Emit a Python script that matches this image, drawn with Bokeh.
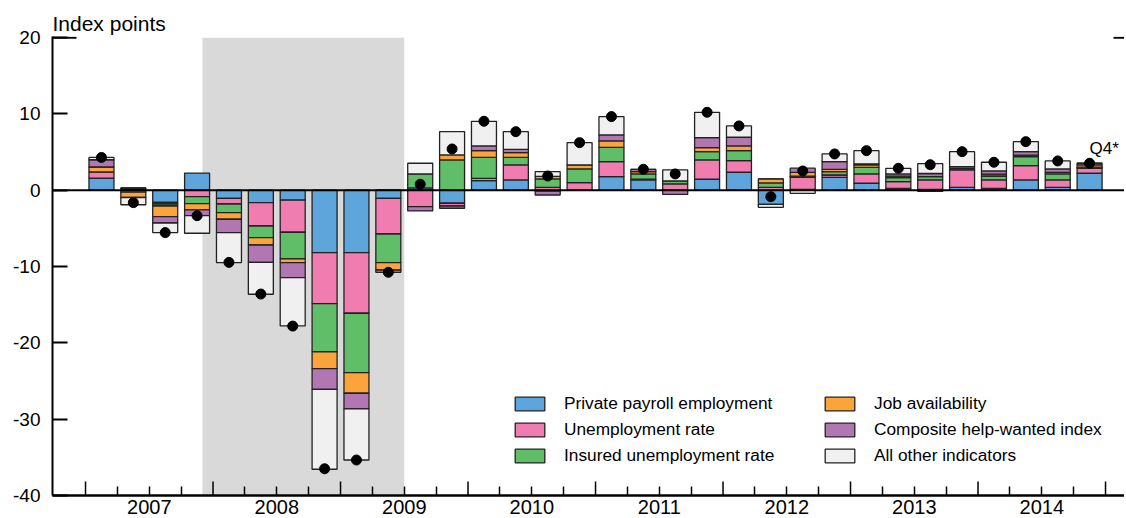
import math
from bokeh.plotting import figure
from bokeh.models import (Range1d, LinearAxis, FixedTicker, BoxAnnotation, Span,
                          Legend, LegendItem, Label)
from bokeh.embed import file_html
from bokeh.resources import INLINE

# ---------------- data ----------------
quarters = [f"{yr}Q{q}" for yr in range(2007, 2015) for q in range(1, 5)]

payroll = [1.6, 0.2, -1.58, 2.25, -1.05, -1.62, -1.3, -8.17,
           -8.17, -1.05, 0.3, -1.7, 1.26, 1.35, -0.1, 0.0,
           1.79, 1.35, 0.0, 1.44, 2.36, -1.84, 0.1, 1.7,
           0.92, 0.25, 0.1, 0.39, 0.25, 1.35, 0.39, 2.23]
unemp = [0.8, -0.25, -0.22, -0.84, -0.75, -3.06, -4.2, -6.69,
         -7.95, -4.68, -2.15, -0.36, 0.31, 1.97, 0.39, 1.0,
         1.96, 0.1, 0.83, 2.53, 1.52, 0.39, 1.6, 0.3,
         1.22, 0.88, 1.25, 2.27, 1.1, 1.88, 0.96, 0.65]
insured = [0.0, 0.1, -0.26, -0.92, -1.13, -1.53, -3.5, -6.33,
           -7.78, -3.75, 1.84, 3.97, 2.75, 1.0, 1.09, 1.79,
           1.88, 0.69, 0.39, 1.09, 1.31, 0.57, 0.15, 0.44,
           0.87, 0.53, 0.44, 0.1, 0.52, 1.18, 0.79, 0.15]
jobavail = [0.65, -0.7, -1.4, -0.82, -0.87, -0.96, -0.48, -2.19,
            -2.7, -0.97, 0.0, 0.66, 0.87, 0.61, 0.35, 0.53,
            0.83, 0.3, 0.0, 0.52, 0.62, 0.52, 0.5, 0.3,
            0.31, 0.2, -0.15, 0.1, 0.25, 0.2, 0.2, 0.3]
helpwanted = [0.95, 0.0, -0.83, -0.75, -1.75, -2.27, -1.97, -2.7,
              -2.06, -0.3, -0.56, -0.3, 0.62, 0.44, -0.52, 0.0,
              0.79, 0.3, -0.55, 1.31, 1.14, 0.0, 0.55, 1.0,
              0.15, 0.28, 0.41, 0.24, 0.41, 0.45, 0.45, 0.21]
other = [0.3, -0.95, -1.26, -2.3, -3.93, -4.19, -6.33, -10.48,
         -6.69, 0.0, 1.4, 3.05, 3.23, 2.31, 0.61, 2.92,
         2.4, 0.0, 1.44, 3.33, 1.48, -0.39, -0.4, 1.02,
         1.72, 0.74, 1.3, 1.96, 1.14, 1.31, 1.05, 0.0]
lmci = [4.3, -1.62, -5.55, -3.33, -9.45, -13.6, -17.8, -36.5,
        -35.35, -10.75, 0.79, 5.41, 9.04, 7.68, 1.87, 6.24,
        9.65, 2.75, 2.14, 10.22, 8.43, -0.84, 2.53, 4.76,
        5.19, 2.88, 3.35, 5.06, 3.67, 6.37, 3.84, 3.54]

series_names = ["Private payroll employment", "Unemployment rate",
                "Insured unemployment rate", "Job availability",
                "Composite help-wanted index", "All other indicators"]
series_values = [payroll, unemp, insured, jobavail, helpwanted, other]
series_colors = ["#5DA5DA", "#F17CB0", "#60BD68", "#FAA43A", "#B276B2", "#F0F0F0"]

year_labels = ["2007", "2008", "2009", "2010", "2011", "2012", "2013", "2014"]
y_ticks = [-40, -30, -20, -10, 0, 10, 20]
y_tick_labels = ["-40", "-30", "-20", "-10", "0", "10", "20"]
recession_start = 2007 + 11 / 12   # Dec 2007
recession_end = 2009.5             # end of June 2009
last_label = "Q4*"

FONT = "Liberation Sans"

# ---------------- figure ----------------
x = [int(q[:4]) + (int(q[5]) - 0.5) / 4 for q in quarters]

W, H = 1124, 517
left_border = 52
px_per_year = 127.5
x0 = 2006.741
x1 = x0 + (W - left_border) / px_per_year
p = figure(width=W, height=H,
           x_range=Range1d(x0, x1),
           y_range=Range1d(min(y_ticks), max(y_ticks) + 0.15),
           output_backend="svg", toolbar_location=None,
           x_axis_location=None, y_axis_location=None,
           min_border_left=left_border, min_border_right=0,
           min_border_top=36, min_border_bottom=22,
           outline_line_color=None, background_fill_color="white",
           border_fill_color="white")
p.grid.visible = False

p.title.text = "Index points"
p.title.align = "left"
p.title.text_font = FONT
p.title.text_font_size = "21px"
p.title.text_font_style = "normal"
p.title.text_color = "black"
p.title.offset = 0
p.title.standoff = 3

p.add_layout(BoxAnnotation(left=recession_start, right=recession_end,
                           bottom=min(y_ticks), top=max(y_ticks),
                           fill_color="#d9d9d9", fill_alpha=1.0,
                           line_color=None, level="underlay"))

# stacked bars
pos_base = [0.0] * len(x)
neg_base = [0.0] * len(x)
items = []
for name, vals, col in zip(series_names, series_values, series_colors):
    bottoms, tops = [], []
    for i, v in enumerate(vals):
        if v >= 0:
            b = pos_base[i]; t = b + v; pos_base[i] = t
        else:
            b = neg_base[i]; t = b + v; neg_base[i] = t
        bottoms.append(b); tops.append(t)
    r = p.vbar(x=x, width=0.196, bottom=bottoms, top=tops,
               fill_color=col, line_color="#222222", line_width=1.3)
    items.append(LegendItem(label=name, renderers=[r]))

p.add_layout(Span(location=0, dimension="width", line_color="black", line_width=2))

p.scatter(x, lmci, size=10, color="black")

p.add_layout(Label(x=x[-1], y=lmci[-1], text=last_label, x_offset=0, y_offset=15,
                   text_align="left", text_baseline="alphabetic",
                   text_font=FONT, text_font_size="17px", text_color="black"))

# axes
yax = LinearAxis(ticker=FixedTicker(ticks=y_ticks),
                 major_label_overrides=dict(zip(y_ticks, y_tick_labels)),
                 major_tick_in=15, major_tick_out=0,
                 minor_tick_in=0, minor_tick_out=0,
                 axis_line_width=2, axis_line_color="black",
                 major_tick_line_width=2, major_tick_line_color="black",
                 major_label_standoff=12,
                 major_label_text_font=FONT, major_label_text_font_size="19px",
                 major_label_text_color="black")
p.add_layout(yax, "left")

# longer top tick on the left, short tick at the right edge
p.ray(x=[x0], y=[max(y_ticks)], length=24, length_units="screen", angle=0,
      line_color="black", line_width=2)
p.ray(x=[x1], y=[max(y_ticks)], length=11, length_units="screen", angle=math.pi,
      line_color="black", line_width=2)

first_year = int(year_labels[0])
year_bounds = [first_year + k for k in range(len(year_labels) + 1)]
quarter_bounds = [yb + f for yb in year_bounds[:-1] for f in (0.25, 0.5, 0.75)]
year_mid = [int(y) + 0.5 for y in year_labels]

xl = LinearAxis(ticker=FixedTicker(ticks=year_mid, minor_ticks=quarter_bounds),
                major_label_overrides=dict(zip(year_mid, year_labels)),
                axis_line_width=2.5, axis_line_color="black",
                major_tick_line_color=None, major_tick_in=0, major_tick_out=0,
                minor_tick_in=9, minor_tick_out=0,
                minor_tick_line_width=1.5, minor_tick_line_color="black",
                major_label_standoff=4,
                major_label_text_font=FONT, major_label_text_font_size="20px",
                major_label_text_color="black")
p.add_layout(xl, "below")

# taller ticks at the year boundaries
p.ray(x=year_bounds, y=[min(y_ticks)] * len(year_bounds), length=14,
      length_units="screen", angle=math.pi / 2, line_color="black", line_width=1.5)

legend = Legend(items=items, location=(459, 29), orientation="vertical", nrows=3,
                glyph_width=37, glyph_height=17, label_standoff=16,
                label_width=252, label_height=17, spacing=5,
                padding=0, margin=0, border_line_color=None,
                background_fill_alpha=0,
                label_text_font=FONT, label_text_font_size="17.3px",
                label_text_color="black")
p.add_layout(legend)

open("out.html", "w").write(file_html(p, INLINE))
